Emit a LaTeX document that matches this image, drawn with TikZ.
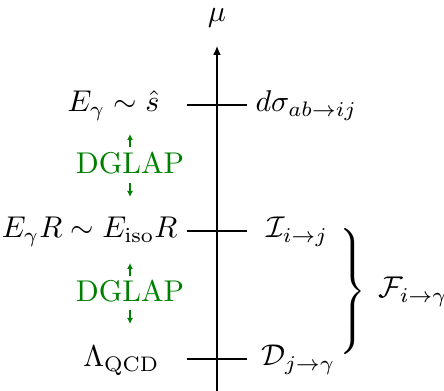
\documentclass[tikz,border=0pt]{standalone}
\usetikzlibrary{arrows.meta}
\begin{document}
\begin{tikzpicture}[x=0.333pt,y=-0.333pt,
  lbl/.style={inner sep=0pt},
  tickline/.style={line width=0.4pt},
  dglap/.style={text=green!50!black, inner sep=0pt},
  garrow/.style={green!50!black, line width=0.5pt, -{Latex[length=2pt,width=2pt]}}]
\useasboundingbox (0,0) rectangle (444,391);
% axis
\coordinate (bot) at (217,391);
\coordinate (top) at (217,46);
\draw[line width=0.4pt,-{Latex[length=3pt,width=2.6pt]}] (bot) -- (top);
\node[lbl, anchor=base] (mu) at (217,22) {$\mu$};
% ticks
\coordinate (t1l) at (187,105); \coordinate (t1r) at (247,105);
\coordinate (t2l) at (187,231); \coordinate (t2r) at (247,231);
\coordinate (t3l) at (187,359); \coordinate (t3r) at (247,359);
\draw[tickline] (t1l) -- (t1r);
\draw[tickline] (t2l) -- (t2r);
\draw[tickline] (t3l) -- (t3r);
% left labels
\node[lbl, anchor=base east] (l1) at (160,112) {$E_\gamma \sim \hat{s}$};
\node[lbl, anchor=base east] (l2) at (178,238) {$E_\gamma R \sim E_{\rm iso} R$};
\node[lbl, anchor=base east] (l3) at (160,367) {$\Lambda_{\rm QCD}$};
% right labels
\node[lbl, anchor=base west] (r1) at (255,112) {$d\sigma_{ab\to ij}$};
\node[lbl, anchor=base west] (r2) at (266,238) {$\mathcal{I}_{i\to j}$};
\node[lbl, anchor=base west] (r3) at (261,366) {$\mathcal{D}_{j\to\gamma}$};
% DGLAP
\node[dglap, anchor=base] (g1) at (130,174) {DGLAP};
\node[dglap, anchor=base] (g2) at (130,302) {DGLAP};
\coordinate (a1s) at (130,147); \coordinate (a1e) at (130,134);
\coordinate (a2s) at (130,183); \coordinate (a2e) at (130,197);
\coordinate (a3s) at (130,276); \coordinate (a3e) at (130,263);
\coordinate (a4s) at (130,310); \coordinate (a4e) at (130,324);
\draw[garrow] (a1s) -- (a1e);
\draw[garrow] (a2s) -- (a2e);
\draw[garrow] (a3s) -- (a3e);
\draw[garrow] (a4s) -- (a4e);
% brace
\node[lbl] (br) at (351,292) {$\left.\vrule height 19pt depth 19pt width 0pt\right\}$};
\node[lbl, anchor=base] (F) at (413,298) {$\mathcal{F}_{i\to\gamma}$};
\end{tikzpicture}
\end{document}
